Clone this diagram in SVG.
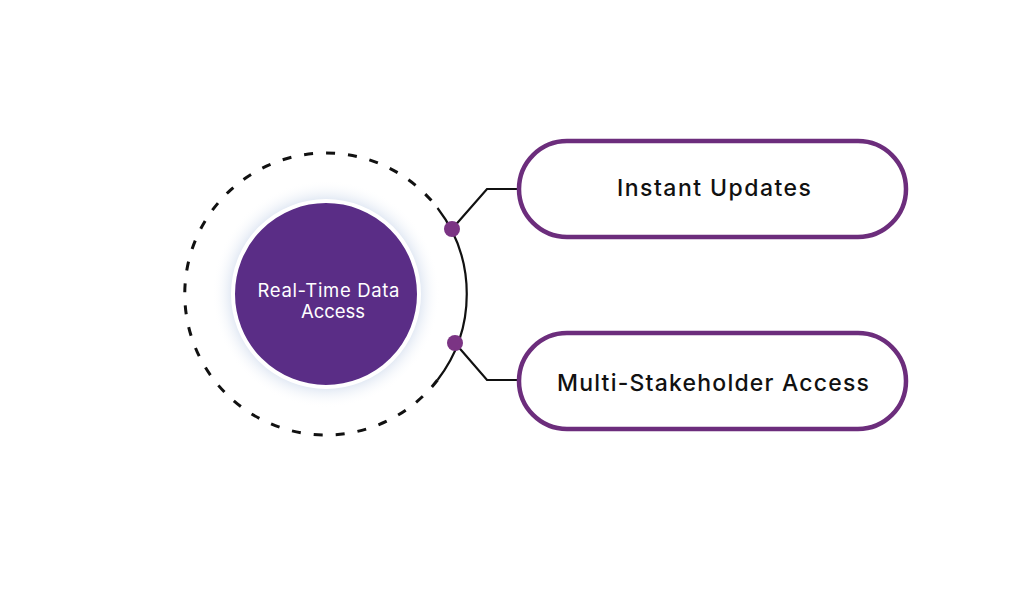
<svg xmlns="http://www.w3.org/2000/svg" width="1024" height="597" viewBox="0 0 1024 597">
<defs>
<style>
.pill{fill:#fff;stroke:#6c2d7c;stroke-width:4.5}
.lbl{font-family:Inter,"Open Sans",sans-serif;font-size:23px;fill:#111;text-anchor:middle;font-weight:500}
.ctr{font-family:Inter,"Open Sans",sans-serif;font-size:18.5px;fill:#fff;text-anchor:middle}
.conn{fill:none;stroke:#111;stroke-width:2.2}
.dot{fill:#7b3484}
</style>
<radialGradient id="glow" cx="0.5" cy="0.5" r="0.5">
<stop offset="0.78" stop-color="#c9d6ea" stop-opacity="0.85"/>
<stop offset="1" stop-color="#ffffff" stop-opacity="0"/>
</radialGradient>
</defs>
<rect width="1024" height="597" fill="#fff"/>
<g id="ring">
<path d="M437.5 380 A141 141 0 1 1 437.5 208" fill="none" stroke="#111" stroke-width="3" stroke-dasharray="9 13"/>
</g>
<g id="center">
<circle cx="326" cy="294" r="114" fill="url(#glow)"/>
<circle cx="326" cy="294" r="93" fill="#5a2d86" stroke="#fff" stroke-width="4"/>
<text class="ctr" x="328.5" y="296.5" textLength="142" lengthAdjust="spacing">Real-Time Data</text>
<text class="ctr" x="333" y="317.5">Access</text>
</g>
<g id="connectors">
<path class="conn" d="M437.5 208 A141 141 0 0 1 437.5 380"/>
<polyline class="conn" points="452,229 487,189 519,189"/>
<polyline class="conn" points="455,343 487,380 519,380"/>
<circle class="dot" cx="452" cy="229" r="8"/>
<circle class="dot" cx="455" cy="343" r="8"/>
</g>
<g id="instant-updates">
<rect class="pill" x="519" y="141" width="387" height="96" rx="48"/>
<text class="lbl" x="714" y="196" textLength="194" lengthAdjust="spacing">Instant Updates</text>
</g>
<g id="multi-stakeholder">
<rect class="pill" x="519" y="333" width="387" height="96" rx="48"/>
<text class="lbl" x="713" y="391" textLength="312" lengthAdjust="spacing">Multi-Stakeholder Access</text>
</g>
</svg>
